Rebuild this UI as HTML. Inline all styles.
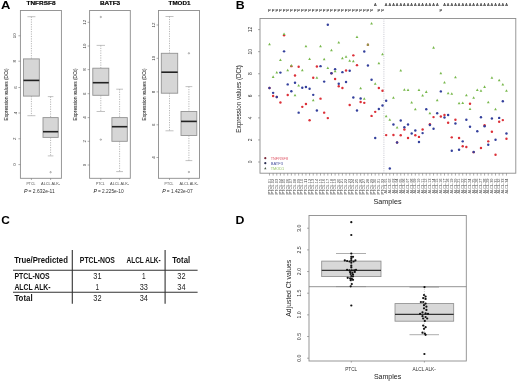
<!DOCTYPE html>
<html><head><meta charset="utf-8"><title>Figure</title>
<style>
html,body{margin:0;padding:0;background:#fff;width:520px;height:381px;overflow:hidden;}
svg{display:block;will-change:transform;}
text{font-family:"Liberation Sans", sans-serif;}
</style></head>
<body>
<svg width="520" height="381" viewBox="0 0 520 381">
<rect width="520" height="381" fill="#fff"/>
<text x="0.90" y="8.60" font-size="11.8" font-weight="bold" textLength="9.40" lengthAdjust="spacingAndGlyphs">A</text>
<rect x="20.40" y="10.50" width="41.00" height="167.80" fill="none" stroke="#8c8c8c" stroke-width="0.9"/>
<text x="26.50" y="5.40" font-size="5.9" font-weight="bold" textLength="29.00" lengthAdjust="spacingAndGlyphs" style="stroke:#000;stroke-width:0.18px">TNFRSF8</text>
<line x1="18.40" y1="35.80" x2="20.40" y2="35.80" stroke="#777" stroke-width="0.6"/>
<text x="16.50" y="35.80" font-size="4.4" text-anchor="middle" fill="#3a3a3a" transform="rotate(-90 16.50 35.80)">10</text>
<line x1="18.40" y1="61.20" x2="20.40" y2="61.20" stroke="#777" stroke-width="0.6"/>
<text x="16.50" y="61.20" font-size="4.4" text-anchor="middle" fill="#3a3a3a" transform="rotate(-90 16.50 61.20)">8</text>
<line x1="18.40" y1="87.50" x2="20.40" y2="87.50" stroke="#777" stroke-width="0.6"/>
<text x="16.50" y="87.50" font-size="4.4" text-anchor="middle" fill="#3a3a3a" transform="rotate(-90 16.50 87.50)">6</text>
<line x1="18.40" y1="113.00" x2="20.40" y2="113.00" stroke="#777" stroke-width="0.6"/>
<text x="16.50" y="113.00" font-size="4.4" text-anchor="middle" fill="#3a3a3a" transform="rotate(-90 16.50 113.00)">4</text>
<line x1="18.40" y1="138.80" x2="20.40" y2="138.80" stroke="#777" stroke-width="0.6"/>
<text x="16.50" y="138.80" font-size="4.4" text-anchor="middle" fill="#3a3a3a" transform="rotate(-90 16.50 138.80)">2</text>
<line x1="18.40" y1="164.60" x2="20.40" y2="164.60" stroke="#777" stroke-width="0.6"/>
<text x="16.50" y="164.60" font-size="4.4" text-anchor="middle" fill="#3a3a3a" transform="rotate(-90 16.50 164.60)">0</text>
<text x="7.90" y="94.50" font-size="5.9" text-anchor="middle" fill="#2a2a2a" textLength="52.00" lengthAdjust="spacingAndGlyphs" transform="rotate(-90 7.90 94.50)" stroke="#2a2a2a" stroke-width="0.07">Expression values (DCt)</text>
<line x1="31.40" y1="16.70" x2="31.40" y2="58.90" stroke="#888" stroke-width="0.6" stroke-dasharray="1.2,1.2"/>
<line x1="31.40" y1="96.10" x2="31.40" y2="115.70" stroke="#888" stroke-width="0.6" stroke-dasharray="1.2,1.2"/>
<line x1="27.40" y1="16.70" x2="35.40" y2="16.70" stroke="#999" stroke-width="0.6"/>
<line x1="27.40" y1="115.70" x2="35.40" y2="115.70" stroke="#999" stroke-width="0.6"/>
<rect x="23.50" y="58.90" width="15.80" height="37.20" fill="#d6d6d6" stroke="#939393" stroke-width="0.9"/>
<line x1="23.50" y1="80.40" x2="39.30" y2="80.40" stroke="#222" stroke-width="1.6"/>
<line x1="50.60" y1="96.60" x2="50.60" y2="117.60" stroke="#888" stroke-width="0.6" stroke-dasharray="1.2,1.2"/>
<line x1="50.60" y1="137.40" x2="50.60" y2="155.90" stroke="#888" stroke-width="0.6" stroke-dasharray="1.2,1.2"/>
<line x1="47.80" y1="96.60" x2="53.40" y2="96.60" stroke="#999" stroke-width="0.6"/>
<line x1="47.80" y1="155.90" x2="53.40" y2="155.90" stroke="#999" stroke-width="0.6"/>
<rect x="43.00" y="117.60" width="15.20" height="19.80" fill="#d6d6d6" stroke="#939393" stroke-width="0.9"/>
<line x1="43.00" y1="131.70" x2="58.20" y2="131.70" stroke="#222" stroke-width="1.6"/>
<circle cx="50.60" cy="172.20" r="0.7" fill="none" stroke="#666" stroke-width="0.5"/>
<line x1="31.40" y1="178.30" x2="31.40" y2="180.00" stroke="#777" stroke-width="0.6"/>
<line x1="50.60" y1="178.30" x2="50.60" y2="180.00" stroke="#777" stroke-width="0.6"/>
<text x="30.90" y="185.30" font-size="4.1" text-anchor="middle" fill="#4a4a4a" textLength="8.80" lengthAdjust="spacingAndGlyphs">PTCL</text>
<text x="50.60" y="185.30" font-size="4.1" text-anchor="middle" fill="#4a4a4a" textLength="19.00" lengthAdjust="spacingAndGlyphs">ALCL ALK-</text>
<text x="24.00" y="193.20" font-size="5.6" fill="#111" textLength="3.50" lengthAdjust="spacingAndGlyphs" style="font-style:italic">P</text>
<text x="28.50" y="193.10" font-size="5.2" fill="#333" textLength="26.20" lengthAdjust="spacingAndGlyphs"> = 2.632e-11</text>
<rect x="89.60" y="10.50" width="40.70" height="167.80" fill="none" stroke="#8c8c8c" stroke-width="0.9"/>
<text x="99.90" y="5.40" font-size="5.9" font-weight="bold" textLength="20.30" lengthAdjust="spacingAndGlyphs" style="stroke:#000;stroke-width:0.18px">BATF3</text>
<line x1="87.60" y1="22.30" x2="89.60" y2="22.30" stroke="#777" stroke-width="0.6"/>
<text x="85.70" y="22.30" font-size="4.4" text-anchor="middle" fill="#3a3a3a" transform="rotate(-90 85.70 22.30)">12</text>
<line x1="87.60" y1="46.00" x2="89.60" y2="46.00" stroke="#777" stroke-width="0.6"/>
<text x="85.70" y="46.00" font-size="4.4" text-anchor="middle" fill="#3a3a3a" transform="rotate(-90 85.70 46.00)">10</text>
<line x1="87.60" y1="69.60" x2="89.60" y2="69.60" stroke="#777" stroke-width="0.6"/>
<text x="85.70" y="69.60" font-size="4.4" text-anchor="middle" fill="#3a3a3a" transform="rotate(-90 85.70 69.60)">8</text>
<line x1="87.60" y1="93.70" x2="89.60" y2="93.70" stroke="#777" stroke-width="0.6"/>
<text x="85.70" y="93.70" font-size="4.4" text-anchor="middle" fill="#3a3a3a" transform="rotate(-90 85.70 93.70)">6</text>
<line x1="87.60" y1="117.60" x2="89.60" y2="117.60" stroke="#777" stroke-width="0.6"/>
<text x="85.70" y="117.60" font-size="4.4" text-anchor="middle" fill="#3a3a3a" transform="rotate(-90 85.70 117.60)">4</text>
<line x1="87.60" y1="141.30" x2="89.60" y2="141.30" stroke="#777" stroke-width="0.6"/>
<text x="85.70" y="141.30" font-size="4.4" text-anchor="middle" fill="#3a3a3a" transform="rotate(-90 85.70 141.30)">2</text>
<line x1="87.60" y1="165.00" x2="89.60" y2="165.00" stroke="#777" stroke-width="0.6"/>
<text x="85.70" y="165.00" font-size="4.4" text-anchor="middle" fill="#3a3a3a" transform="rotate(-90 85.70 165.00)">0</text>
<text x="77.10" y="94.50" font-size="5.9" text-anchor="middle" fill="#2a2a2a" textLength="52.00" lengthAdjust="spacingAndGlyphs" transform="rotate(-90 77.10 94.50)" stroke="#2a2a2a" stroke-width="0.07">Expression values (DCt)</text>
<line x1="100.80" y1="45.40" x2="100.80" y2="68.20" stroke="#888" stroke-width="0.6" stroke-dasharray="1.2,1.2"/>
<line x1="100.80" y1="95.30" x2="100.80" y2="111.50" stroke="#888" stroke-width="0.6" stroke-dasharray="1.2,1.2"/>
<line x1="96.60" y1="45.40" x2="105.00" y2="45.40" stroke="#999" stroke-width="0.6"/>
<line x1="96.60" y1="111.50" x2="105.00" y2="111.50" stroke="#999" stroke-width="0.6"/>
<rect x="92.80" y="68.20" width="16.00" height="27.10" fill="#d6d6d6" stroke="#939393" stroke-width="0.9"/>
<line x1="92.80" y1="82.70" x2="108.80" y2="82.70" stroke="#222" stroke-width="1.6"/>
<circle cx="100.80" cy="17.00" r="0.7" fill="none" stroke="#666" stroke-width="0.5"/>
<circle cx="100.80" cy="139.60" r="0.7" fill="none" stroke="#666" stroke-width="0.5"/>
<line x1="119.60" y1="89.20" x2="119.60" y2="117.60" stroke="#888" stroke-width="0.6" stroke-dasharray="1.2,1.2"/>
<line x1="119.60" y1="141.30" x2="119.60" y2="171.60" stroke="#888" stroke-width="0.6" stroke-dasharray="1.2,1.2"/>
<line x1="116.20" y1="89.20" x2="123.00" y2="89.20" stroke="#999" stroke-width="0.6"/>
<line x1="116.20" y1="171.60" x2="123.00" y2="171.60" stroke="#999" stroke-width="0.6"/>
<rect x="111.90" y="117.60" width="15.40" height="23.70" fill="#d6d6d6" stroke="#939393" stroke-width="0.9"/>
<line x1="111.90" y1="126.70" x2="127.30" y2="126.70" stroke="#222" stroke-width="1.6"/>
<line x1="100.80" y1="178.30" x2="100.80" y2="180.00" stroke="#777" stroke-width="0.6"/>
<line x1="119.60" y1="178.30" x2="119.60" y2="180.00" stroke="#777" stroke-width="0.6"/>
<text x="100.30" y="185.30" font-size="4.1" text-anchor="middle" fill="#4a4a4a" textLength="8.80" lengthAdjust="spacingAndGlyphs">PTCL</text>
<text x="119.60" y="185.30" font-size="4.1" text-anchor="middle" fill="#4a4a4a" textLength="19.00" lengthAdjust="spacingAndGlyphs">ALCL ALK-</text>
<text x="93.40" y="193.20" font-size="5.6" fill="#111" textLength="3.50" lengthAdjust="spacingAndGlyphs" style="font-style:italic">P</text>
<text x="97.90" y="193.10" font-size="5.2" fill="#333" textLength="25.80" lengthAdjust="spacingAndGlyphs"> = 2.225e-10</text>
<rect x="158.50" y="10.50" width="41.00" height="167.80" fill="none" stroke="#8c8c8c" stroke-width="0.9"/>
<text x="168.60" y="5.40" font-size="5.9" font-weight="bold" textLength="21.80" lengthAdjust="spacingAndGlyphs" style="stroke:#000;stroke-width:0.18px">TMOD1</text>
<line x1="156.50" y1="25.00" x2="158.50" y2="25.00" stroke="#777" stroke-width="0.6"/>
<text x="154.60" y="25.00" font-size="4.4" text-anchor="middle" fill="#3a3a3a" transform="rotate(-90 154.60 25.00)">12</text>
<line x1="156.50" y1="58.30" x2="158.50" y2="58.30" stroke="#777" stroke-width="0.6"/>
<text x="154.60" y="58.30" font-size="4.4" text-anchor="middle" fill="#3a3a3a" transform="rotate(-90 154.60 58.30)">10</text>
<line x1="156.50" y1="91.90" x2="158.50" y2="91.90" stroke="#777" stroke-width="0.6"/>
<text x="154.60" y="91.90" font-size="4.4" text-anchor="middle" fill="#3a3a3a" transform="rotate(-90 154.60 91.90)">8</text>
<line x1="156.50" y1="124.80" x2="158.50" y2="124.80" stroke="#777" stroke-width="0.6"/>
<text x="154.60" y="124.80" font-size="4.4" text-anchor="middle" fill="#3a3a3a" transform="rotate(-90 154.60 124.80)">6</text>
<line x1="156.50" y1="157.50" x2="158.50" y2="157.50" stroke="#777" stroke-width="0.6"/>
<text x="154.60" y="157.50" font-size="4.4" text-anchor="middle" fill="#3a3a3a" transform="rotate(-90 154.60 157.50)">4</text>
<text x="146.00" y="94.50" font-size="5.9" text-anchor="middle" fill="#2a2a2a" textLength="52.00" lengthAdjust="spacingAndGlyphs" transform="rotate(-90 146.00 94.50)" stroke="#2a2a2a" stroke-width="0.07">Expression values (DCt)</text>
<line x1="169.50" y1="16.50" x2="169.50" y2="53.30" stroke="#888" stroke-width="0.6" stroke-dasharray="1.2,1.2"/>
<line x1="169.50" y1="93.20" x2="169.50" y2="130.80" stroke="#888" stroke-width="0.6" stroke-dasharray="1.2,1.2"/>
<line x1="165.50" y1="16.50" x2="173.50" y2="16.50" stroke="#999" stroke-width="0.6"/>
<line x1="165.50" y1="130.80" x2="173.50" y2="130.80" stroke="#999" stroke-width="0.6"/>
<rect x="161.30" y="53.30" width="16.40" height="39.90" fill="#d6d6d6" stroke="#939393" stroke-width="0.9"/>
<line x1="161.30" y1="72.20" x2="177.70" y2="72.20" stroke="#222" stroke-width="1.6"/>
<line x1="188.90" y1="86.60" x2="188.90" y2="111.50" stroke="#888" stroke-width="0.6" stroke-dasharray="1.2,1.2"/>
<line x1="188.90" y1="135.50" x2="188.90" y2="160.60" stroke="#888" stroke-width="0.6" stroke-dasharray="1.2,1.2"/>
<line x1="185.50" y1="86.60" x2="192.30" y2="86.60" stroke="#999" stroke-width="0.6"/>
<line x1="185.50" y1="160.60" x2="192.30" y2="160.60" stroke="#999" stroke-width="0.6"/>
<rect x="181.00" y="111.50" width="15.80" height="24.00" fill="#d6d6d6" stroke="#939393" stroke-width="0.9"/>
<line x1="181.00" y1="121.40" x2="196.80" y2="121.40" stroke="#222" stroke-width="1.6"/>
<circle cx="188.90" cy="53.30" r="0.7" fill="none" stroke="#666" stroke-width="0.5"/>
<circle cx="188.90" cy="172.00" r="0.7" fill="none" stroke="#666" stroke-width="0.5"/>
<line x1="169.50" y1="178.30" x2="169.50" y2="180.00" stroke="#777" stroke-width="0.6"/>
<line x1="188.90" y1="178.30" x2="188.90" y2="180.00" stroke="#777" stroke-width="0.6"/>
<text x="169.00" y="185.30" font-size="4.1" text-anchor="middle" fill="#4a4a4a" textLength="8.80" lengthAdjust="spacingAndGlyphs">PTCL</text>
<text x="188.90" y="185.30" font-size="4.1" text-anchor="middle" fill="#4a4a4a" textLength="19.00" lengthAdjust="spacingAndGlyphs">ALCL ALK-</text>
<text x="162.30" y="193.20" font-size="5.6" fill="#111" textLength="3.50" lengthAdjust="spacingAndGlyphs" style="font-style:italic">P</text>
<text x="166.80" y="193.10" font-size="5.2" fill="#333" textLength="25.80" lengthAdjust="spacingAndGlyphs"> = 1.423e-07</text>
<text x="235.70" y="8.70" font-size="10.9" font-weight="bold" textLength="8.90" lengthAdjust="spacingAndGlyphs">B</text>
<rect x="260.00" y="18.50" width="255.80" height="154.70" fill="none" stroke="#8c8c8c" stroke-width="0.9"/>
<line x1="258.00" y1="162.00" x2="260.00" y2="162.00" stroke="#777" stroke-width="0.6"/>
<text x="252.40" y="162.00" font-size="4.9" text-anchor="middle" fill="#333" transform="rotate(-90 252.40 162.00)">0</text>
<line x1="258.00" y1="139.93" x2="260.00" y2="139.93" stroke="#777" stroke-width="0.6"/>
<text x="252.40" y="139.93" font-size="4.9" text-anchor="middle" fill="#333" transform="rotate(-90 252.40 139.93)">2</text>
<line x1="258.00" y1="117.87" x2="260.00" y2="117.87" stroke="#777" stroke-width="0.6"/>
<text x="252.40" y="117.87" font-size="4.9" text-anchor="middle" fill="#333" transform="rotate(-90 252.40 117.87)">4</text>
<line x1="258.00" y1="95.80" x2="260.00" y2="95.80" stroke="#777" stroke-width="0.6"/>
<text x="252.40" y="95.80" font-size="4.9" text-anchor="middle" fill="#333" transform="rotate(-90 252.40 95.80)">6</text>
<line x1="258.00" y1="73.74" x2="260.00" y2="73.74" stroke="#777" stroke-width="0.6"/>
<text x="252.40" y="73.74" font-size="4.9" text-anchor="middle" fill="#333" transform="rotate(-90 252.40 73.74)">8</text>
<line x1="258.00" y1="51.67" x2="260.00" y2="51.67" stroke="#777" stroke-width="0.6"/>
<text x="252.40" y="51.67" font-size="4.9" text-anchor="middle" fill="#333" transform="rotate(-90 252.40 51.67)">10</text>
<line x1="258.00" y1="29.60" x2="260.00" y2="29.60" stroke="#777" stroke-width="0.6"/>
<text x="252.40" y="29.60" font-size="4.9" text-anchor="middle" fill="#333" transform="rotate(-90 252.40 29.60)">12</text>
<text x="240.80" y="98.90" font-size="6.8" text-anchor="middle" fill="#2a2a2a" textLength="67.50" lengthAdjust="spacingAndGlyphs" transform="rotate(-90 240.80 98.90)" stroke="#2a2a2a" stroke-width="0.03">Expression values (DCt)</text>
<line x1="383.90" y1="18.50" x2="383.90" y2="173.20" stroke="#b8b8c4" stroke-width="0.8" stroke-dasharray="1,1.2"/>
<line x1="269.48" y1="173.20" x2="269.48" y2="175.60" stroke="#777" stroke-width="0.6"/>
<circle cx="269.48" cy="88.06" r="1.22" fill="#dc3038"/>
<circle cx="269.48" cy="88.06" r="1.22" fill="#34409c"/>
<polygon points="269.48,42.64 268.10,45.18 270.86,45.18" fill="#78b84c"/>
<text x="269.48" y="11.90" font-size="4.1" text-anchor="middle" fill="#333" stroke="#333" stroke-width="0.1">P</text>
<text x="270.58" y="194.60" font-size="3.0" fill="#4a4a4a" textLength="15.80" lengthAdjust="spacingAndGlyphs" transform="rotate(-90 270.58 194.60)">PTCL.01</text>
<line x1="273.13" y1="173.20" x2="273.13" y2="175.60" stroke="#777" stroke-width="0.6"/>
<circle cx="273.13" cy="95.96" r="1.22" fill="#dc3038"/>
<circle cx="273.13" cy="92.85" r="1.22" fill="#34409c"/>
<polygon points="273.13,75.35 271.75,77.89 274.51,77.89" fill="#78b84c"/>
<text x="273.13" y="11.90" font-size="4.1" text-anchor="middle" fill="#333" stroke="#333" stroke-width="0.1">P</text>
<text x="274.23" y="194.60" font-size="3.0" fill="#4a4a4a" textLength="15.80" lengthAdjust="spacingAndGlyphs" transform="rotate(-90 274.23 194.60)">PTCL.02</text>
<line x1="276.77" y1="173.20" x2="276.77" y2="175.60" stroke="#777" stroke-width="0.6"/>
<circle cx="276.77" cy="96.96" r="1.22" fill="#dc3038"/>
<circle cx="276.77" cy="96.96" r="1.22" fill="#34409c"/>
<polygon points="276.77,71.01 275.39,73.55 278.15,73.55" fill="#78b84c"/>
<text x="276.77" y="11.90" font-size="4.1" text-anchor="middle" fill="#333" stroke="#333" stroke-width="0.1">P</text>
<text x="277.87" y="194.60" font-size="3.0" fill="#4a4a4a" textLength="15.80" lengthAdjust="spacingAndGlyphs" transform="rotate(-90 277.87 194.60)">PTCL.03</text>
<line x1="280.42" y1="173.20" x2="280.42" y2="175.60" stroke="#777" stroke-width="0.6"/>
<circle cx="280.42" cy="102.52" r="1.22" fill="#dc3038"/>
<circle cx="280.42" cy="72.60" r="1.22" fill="#34409c"/>
<polygon points="280.42,58.44 279.04,60.98 281.80,60.98" fill="#78b84c"/>
<text x="280.42" y="11.90" font-size="4.1" text-anchor="middle" fill="#333" stroke="#333" stroke-width="0.1">P</text>
<text x="281.52" y="194.60" font-size="3.0" fill="#4a4a4a" textLength="15.80" lengthAdjust="spacingAndGlyphs" transform="rotate(-90 281.52 194.60)">PTCL.04</text>
<line x1="284.06" y1="173.20" x2="284.06" y2="175.60" stroke="#777" stroke-width="0.6"/>
<circle cx="284.06" cy="35.22" r="1.22" fill="#dc3038"/>
<circle cx="284.06" cy="51.35" r="1.22" fill="#34409c"/>
<polygon points="284.06,32.52 282.68,35.06 285.44,35.06" fill="#78b84c"/>
<text x="284.06" y="11.90" font-size="4.1" text-anchor="middle" fill="#333" stroke="#333" stroke-width="0.1">P</text>
<text x="285.16" y="194.60" font-size="3.0" fill="#4a4a4a" textLength="15.80" lengthAdjust="spacingAndGlyphs" transform="rotate(-90 285.16 194.60)">PTCL.05</text>
<line x1="287.71" y1="173.20" x2="287.71" y2="175.60" stroke="#777" stroke-width="0.6"/>
<circle cx="287.71" cy="94.96" r="1.22" fill="#dc3038"/>
<circle cx="287.71" cy="84.39" r="1.22" fill="#34409c"/>
<polygon points="287.71,68.68 286.33,71.21 289.09,71.21" fill="#78b84c"/>
<text x="287.71" y="11.90" font-size="4.1" text-anchor="middle" fill="#333" stroke="#333" stroke-width="0.1">P</text>
<text x="288.81" y="194.60" font-size="3.0" fill="#4a4a4a" textLength="15.80" lengthAdjust="spacingAndGlyphs" transform="rotate(-90 288.81 194.60)">PTCL.06</text>
<line x1="291.36" y1="173.20" x2="291.36" y2="175.60" stroke="#777" stroke-width="0.6"/>
<circle cx="291.36" cy="66.15" r="1.22" fill="#dc3038"/>
<circle cx="291.36" cy="91.18" r="1.22" fill="#34409c"/>
<polygon points="291.36,64.00 289.98,66.54 292.74,66.54" fill="#78b84c"/>
<text x="291.36" y="11.90" font-size="4.1" text-anchor="middle" fill="#333" stroke="#333" stroke-width="0.1">P</text>
<text x="292.46" y="194.60" font-size="3.0" fill="#4a4a4a" textLength="15.80" lengthAdjust="spacingAndGlyphs" transform="rotate(-90 292.46 194.60)">PTCL.07</text>
<line x1="295.00" y1="173.20" x2="295.00" y2="175.60" stroke="#777" stroke-width="0.6"/>
<circle cx="295.00" cy="75.49" r="1.22" fill="#dc3038"/>
<circle cx="295.00" cy="82.72" r="1.22" fill="#34409c"/>
<polygon points="295.00,93.71 293.62,96.25 296.38,96.25" fill="#78b84c"/>
<text x="295.00" y="11.90" font-size="4.1" text-anchor="middle" fill="#333" stroke="#333" stroke-width="0.1">P</text>
<text x="296.10" y="194.60" font-size="3.0" fill="#4a4a4a" textLength="15.80" lengthAdjust="spacingAndGlyphs" transform="rotate(-90 296.10 194.60)">PTCL.08</text>
<line x1="298.65" y1="173.20" x2="298.65" y2="175.60" stroke="#777" stroke-width="0.6"/>
<circle cx="298.65" cy="66.70" r="1.22" fill="#dc3038"/>
<circle cx="298.65" cy="112.65" r="1.22" fill="#34409c"/>
<polygon points="298.65,83.92 297.27,86.46 300.03,86.46" fill="#78b84c"/>
<text x="298.65" y="11.90" font-size="4.1" text-anchor="middle" fill="#333" stroke="#333" stroke-width="0.1">P</text>
<text x="299.75" y="194.60" font-size="3.0" fill="#4a4a4a" textLength="15.80" lengthAdjust="spacingAndGlyphs" transform="rotate(-90 299.75 194.60)">PTCL.09</text>
<line x1="302.29" y1="173.20" x2="302.29" y2="175.60" stroke="#777" stroke-width="0.6"/>
<circle cx="302.29" cy="106.86" r="1.22" fill="#dc3038"/>
<circle cx="302.29" cy="87.84" r="1.22" fill="#34409c"/>
<polygon points="302.29,68.68 300.91,71.21 303.67,71.21" fill="#78b84c"/>
<text x="302.29" y="11.90" font-size="4.1" text-anchor="middle" fill="#333" stroke="#333" stroke-width="0.1">P</text>
<text x="303.39" y="194.60" font-size="3.0" fill="#4a4a4a" textLength="15.80" lengthAdjust="spacingAndGlyphs" transform="rotate(-90 303.39 194.60)">PTCL.10</text>
<line x1="305.94" y1="173.20" x2="305.94" y2="175.60" stroke="#777" stroke-width="0.6"/>
<circle cx="305.94" cy="103.97" r="1.22" fill="#dc3038"/>
<circle cx="305.94" cy="86.95" r="1.22" fill="#34409c"/>
<polygon points="305.94,44.65 304.56,47.18 307.32,47.18" fill="#78b84c"/>
<text x="305.94" y="11.90" font-size="4.1" text-anchor="middle" fill="#333" stroke="#333" stroke-width="0.1">P</text>
<text x="307.04" y="194.60" font-size="3.0" fill="#4a4a4a" textLength="15.80" lengthAdjust="spacingAndGlyphs" transform="rotate(-90 307.04 194.60)">PTCL.11</text>
<line x1="309.59" y1="173.20" x2="309.59" y2="175.60" stroke="#777" stroke-width="0.6"/>
<circle cx="309.59" cy="120.32" r="1.22" fill="#dc3038"/>
<circle cx="309.59" cy="88.84" r="1.22" fill="#34409c"/>
<polygon points="309.59,57.44 308.21,59.98 310.97,59.98" fill="#78b84c"/>
<text x="309.59" y="11.90" font-size="4.1" text-anchor="middle" fill="#333" stroke="#333" stroke-width="0.1">P</text>
<text x="310.69" y="194.60" font-size="3.0" fill="#4a4a4a" textLength="15.80" lengthAdjust="spacingAndGlyphs" transform="rotate(-90 310.69 194.60)">PTCL.12</text>
<line x1="313.23" y1="173.20" x2="313.23" y2="175.60" stroke="#777" stroke-width="0.6"/>
<circle cx="313.23" cy="77.72" r="1.22" fill="#dc3038"/>
<circle cx="313.23" cy="94.85" r="1.22" fill="#34409c"/>
<polygon points="313.23,98.71 311.85,101.25 314.61,101.25" fill="#78b84c"/>
<text x="313.23" y="11.90" font-size="4.1" text-anchor="middle" fill="#333" stroke="#333" stroke-width="0.1">P</text>
<text x="314.33" y="194.60" font-size="3.0" fill="#4a4a4a" textLength="15.80" lengthAdjust="spacingAndGlyphs" transform="rotate(-90 314.33 194.60)">PTCL.13</text>
<line x1="316.88" y1="173.20" x2="316.88" y2="175.60" stroke="#777" stroke-width="0.6"/>
<circle cx="316.88" cy="66.48" r="1.22" fill="#dc3038"/>
<circle cx="316.88" cy="110.42" r="1.22" fill="#34409c"/>
<polygon points="316.88,76.13 315.50,78.67 318.26,78.67" fill="#78b84c"/>
<text x="316.88" y="11.90" font-size="4.1" text-anchor="middle" fill="#333" stroke="#333" stroke-width="0.1">P</text>
<text x="317.98" y="194.60" font-size="3.0" fill="#4a4a4a" textLength="15.80" lengthAdjust="spacingAndGlyphs" transform="rotate(-90 317.98 194.60)">PTCL.14</text>
<line x1="320.52" y1="173.20" x2="320.52" y2="175.60" stroke="#777" stroke-width="0.6"/>
<circle cx="320.52" cy="98.63" r="1.22" fill="#dc3038"/>
<circle cx="320.52" cy="66.15" r="1.22" fill="#34409c"/>
<polygon points="320.52,44.65 319.14,47.18 321.90,47.18" fill="#78b84c"/>
<text x="320.52" y="11.90" font-size="4.1" text-anchor="middle" fill="#333" stroke="#333" stroke-width="0.1">P</text>
<text x="321.62" y="194.60" font-size="3.0" fill="#4a4a4a" textLength="15.80" lengthAdjust="spacingAndGlyphs" transform="rotate(-90 321.62 194.60)">PTCL.15</text>
<line x1="324.17" y1="173.20" x2="324.17" y2="175.60" stroke="#777" stroke-width="0.6"/>
<circle cx="324.17" cy="112.65" r="1.22" fill="#dc3038"/>
<circle cx="324.17" cy="81.61" r="1.22" fill="#34409c"/>
<polygon points="324.17,57.66 322.79,60.20 325.55,60.20" fill="#78b84c"/>
<text x="324.17" y="11.90" font-size="4.1" text-anchor="middle" fill="#333" stroke="#333" stroke-width="0.1">P</text>
<text x="325.27" y="194.60" font-size="3.0" fill="#4a4a4a" textLength="15.80" lengthAdjust="spacingAndGlyphs" transform="rotate(-90 325.27 194.60)">PTCL.16</text>
<line x1="327.82" y1="173.20" x2="327.82" y2="175.60" stroke="#777" stroke-width="0.6"/>
<circle cx="327.82" cy="118.10" r="1.22" fill="#dc3038"/>
<circle cx="327.82" cy="24.76" r="1.22" fill="#34409c"/>
<polygon points="327.82,66.56 326.44,69.10 329.20,69.10" fill="#78b84c"/>
<text x="327.82" y="11.90" font-size="4.1" text-anchor="middle" fill="#333" stroke="#333" stroke-width="0.1">P</text>
<text x="328.92" y="194.60" font-size="3.0" fill="#4a4a4a" textLength="15.80" lengthAdjust="spacingAndGlyphs" transform="rotate(-90 328.92 194.60)">PTCL.17</text>
<line x1="331.46" y1="173.20" x2="331.46" y2="175.60" stroke="#777" stroke-width="0.6"/>
<circle cx="331.46" cy="73.16" r="1.22" fill="#dc3038"/>
<circle cx="331.46" cy="73.16" r="1.22" fill="#34409c"/>
<polygon points="331.46,48.76 330.08,51.30 332.84,51.30" fill="#78b84c"/>
<text x="331.46" y="11.90" font-size="4.1" text-anchor="middle" fill="#333" stroke="#333" stroke-width="0.1">P</text>
<text x="332.56" y="194.60" font-size="3.0" fill="#4a4a4a" textLength="15.80" lengthAdjust="spacingAndGlyphs" transform="rotate(-90 332.56 194.60)">PTCL.18</text>
<line x1="335.11" y1="173.20" x2="335.11" y2="175.60" stroke="#777" stroke-width="0.6"/>
<circle cx="335.11" cy="79.05" r="1.22" fill="#dc3038"/>
<circle cx="335.11" cy="69.15" r="1.22" fill="#34409c"/>
<polygon points="335.11,69.79 333.73,72.33 336.49,72.33" fill="#78b84c"/>
<text x="335.11" y="11.90" font-size="4.1" text-anchor="middle" fill="#333" stroke="#333" stroke-width="0.1">P</text>
<text x="336.21" y="194.60" font-size="3.0" fill="#4a4a4a" textLength="15.80" lengthAdjust="spacingAndGlyphs" transform="rotate(-90 336.21 194.60)">PTCL.19</text>
<line x1="338.75" y1="173.20" x2="338.75" y2="175.60" stroke="#777" stroke-width="0.6"/>
<circle cx="338.75" cy="86.17" r="1.22" fill="#dc3038"/>
<circle cx="338.75" cy="83.72" r="1.22" fill="#34409c"/>
<polygon points="338.75,41.09 337.37,43.62 340.13,43.62" fill="#78b84c"/>
<text x="338.75" y="11.90" font-size="4.1" text-anchor="middle" fill="#333" stroke="#333" stroke-width="0.1">P</text>
<text x="339.85" y="194.60" font-size="3.0" fill="#4a4a4a" textLength="15.80" lengthAdjust="spacingAndGlyphs" transform="rotate(-90 339.85 194.60)">PTCL.20</text>
<line x1="342.40" y1="173.20" x2="342.40" y2="175.60" stroke="#777" stroke-width="0.6"/>
<circle cx="342.40" cy="88.06" r="1.22" fill="#dc3038"/>
<circle cx="342.40" cy="72.15" r="1.22" fill="#34409c"/>
<polygon points="342.40,56.66 341.02,59.20 343.78,59.20" fill="#78b84c"/>
<text x="342.40" y="11.90" font-size="4.1" text-anchor="middle" fill="#333" stroke="#333" stroke-width="0.1">P</text>
<text x="343.50" y="194.60" font-size="3.0" fill="#4a4a4a" textLength="15.80" lengthAdjust="spacingAndGlyphs" transform="rotate(-90 343.50 194.60)">PTCL.21</text>
<line x1="346.05" y1="173.20" x2="346.05" y2="175.60" stroke="#777" stroke-width="0.6"/>
<circle cx="346.05" cy="70.48" r="1.22" fill="#dc3038"/>
<circle cx="346.05" cy="82.05" r="1.22" fill="#34409c"/>
<polygon points="346.05,55.21 344.67,57.75 347.43,57.75" fill="#78b84c"/>
<text x="346.05" y="11.90" font-size="4.1" text-anchor="middle" fill="#333" stroke="#333" stroke-width="0.1">P</text>
<text x="347.15" y="194.60" font-size="3.0" fill="#4a4a4a" textLength="15.80" lengthAdjust="spacingAndGlyphs" transform="rotate(-90 347.15 194.60)">PTCL.22</text>
<line x1="349.69" y1="173.20" x2="349.69" y2="175.60" stroke="#777" stroke-width="0.6"/>
<circle cx="349.69" cy="104.97" r="1.22" fill="#dc3038"/>
<circle cx="349.69" cy="70.82" r="1.22" fill="#34409c"/>
<polygon points="349.69,59.33 348.31,61.87 351.07,61.87" fill="#78b84c"/>
<text x="349.69" y="11.90" font-size="4.1" text-anchor="middle" fill="#333" stroke="#333" stroke-width="0.1">P</text>
<text x="350.79" y="194.60" font-size="3.0" fill="#4a4a4a" textLength="15.80" lengthAdjust="spacingAndGlyphs" transform="rotate(-90 350.79 194.60)">PTCL.23</text>
<line x1="353.34" y1="173.20" x2="353.34" y2="175.60" stroke="#777" stroke-width="0.6"/>
<circle cx="353.34" cy="55.35" r="1.22" fill="#dc3038"/>
<circle cx="353.34" cy="97.41" r="1.22" fill="#34409c"/>
<polygon points="353.34,59.66 351.96,62.20 354.72,62.20" fill="#78b84c"/>
<text x="353.34" y="11.90" font-size="4.1" text-anchor="middle" fill="#333" stroke="#333" stroke-width="0.1">P</text>
<text x="354.44" y="194.60" font-size="3.0" fill="#4a4a4a" textLength="15.80" lengthAdjust="spacingAndGlyphs" transform="rotate(-90 354.44 194.60)">PTCL.24</text>
<line x1="356.98" y1="173.20" x2="356.98" y2="175.60" stroke="#777" stroke-width="0.6"/>
<circle cx="356.98" cy="65.14" r="1.22" fill="#dc3038"/>
<circle cx="356.98" cy="110.42" r="1.22" fill="#34409c"/>
<polygon points="356.98,35.41 355.60,37.95 358.36,37.95" fill="#78b84c"/>
<text x="356.98" y="11.90" font-size="4.1" text-anchor="middle" fill="#333" stroke="#333" stroke-width="0.1">P</text>
<text x="358.08" y="194.60" font-size="3.0" fill="#4a4a4a" textLength="15.80" lengthAdjust="spacingAndGlyphs" transform="rotate(-90 358.08 194.60)">PTCL.25</text>
<line x1="360.63" y1="173.20" x2="360.63" y2="175.60" stroke="#777" stroke-width="0.6"/>
<circle cx="360.63" cy="102.08" r="1.22" fill="#dc3038"/>
<circle cx="360.63" cy="98.52" r="1.22" fill="#34409c"/>
<polygon points="360.63,86.70 359.25,89.24 362.01,89.24" fill="#78b84c"/>
<text x="360.63" y="11.90" font-size="4.1" text-anchor="middle" fill="#333" stroke="#333" stroke-width="0.1">P</text>
<text x="361.73" y="194.60" font-size="3.0" fill="#4a4a4a" textLength="15.80" lengthAdjust="spacingAndGlyphs" transform="rotate(-90 361.73 194.60)">PTCL.26</text>
<line x1="364.28" y1="173.20" x2="364.28" y2="175.60" stroke="#777" stroke-width="0.6"/>
<circle cx="364.28" cy="102.86" r="1.22" fill="#dc3038"/>
<circle cx="364.28" cy="51.46" r="1.22" fill="#34409c"/>
<polygon points="364.28,97.27 362.90,99.81 365.66,99.81" fill="#78b84c"/>
<text x="364.28" y="11.90" font-size="4.1" text-anchor="middle" fill="#333" stroke="#333" stroke-width="0.1">P</text>
<text x="365.38" y="194.60" font-size="3.0" fill="#4a4a4a" textLength="15.80" lengthAdjust="spacingAndGlyphs" transform="rotate(-90 365.38 194.60)">PTCL.27</text>
<line x1="367.92" y1="173.20" x2="367.92" y2="175.60" stroke="#777" stroke-width="0.6"/>
<circle cx="367.92" cy="44.67" r="1.22" fill="#dc3038"/>
<circle cx="367.92" cy="65.48" r="1.22" fill="#34409c"/>
<polygon points="367.92,42.98 366.54,45.52 369.30,45.52" fill="#78b84c"/>
<text x="367.92" y="11.90" font-size="4.1" text-anchor="middle" fill="#333" stroke="#333" stroke-width="0.1">P</text>
<text x="369.02" y="194.60" font-size="3.0" fill="#4a4a4a" textLength="15.80" lengthAdjust="spacingAndGlyphs" transform="rotate(-90 369.02 194.60)">PTCL.28</text>
<line x1="371.57" y1="173.20" x2="371.57" y2="175.60" stroke="#777" stroke-width="0.6"/>
<circle cx="371.57" cy="115.88" r="1.22" fill="#dc3038"/>
<circle cx="371.57" cy="79.72" r="1.22" fill="#34409c"/>
<polygon points="371.57,22.06 370.19,24.60 372.95,24.60" fill="#78b84c"/>
<text x="371.57" y="11.90" font-size="4.1" text-anchor="middle" fill="#333" stroke="#333" stroke-width="0.1">P</text>
<text x="372.67" y="194.60" font-size="3.0" fill="#4a4a4a" textLength="15.80" lengthAdjust="spacingAndGlyphs" transform="rotate(-90 372.67 194.60)">PTCL.29</text>
<line x1="375.21" y1="173.20" x2="375.21" y2="175.60" stroke="#777" stroke-width="0.6"/>
<circle cx="375.21" cy="111.87" r="1.22" fill="#dc3038"/>
<circle cx="375.21" cy="138.01" r="1.22" fill="#34409c"/>
<polygon points="375.21,82.14 373.83,84.68 376.59,84.68" fill="#78b84c"/>
<text x="375.21" y="5.60" font-size="3.9" text-anchor="middle" fill="#333" stroke="#333" stroke-width="0.1">A</text>
<text x="376.31" y="194.60" font-size="3.0" fill="#4a4a4a" textLength="15.80" lengthAdjust="spacingAndGlyphs" transform="rotate(-90 376.31 194.60)">PTCL.30</text>
<line x1="378.86" y1="173.20" x2="378.86" y2="175.60" stroke="#777" stroke-width="0.6"/>
<circle cx="378.86" cy="88.06" r="1.22" fill="#dc3038"/>
<circle cx="378.86" cy="108.98" r="1.22" fill="#34409c"/>
<polygon points="378.86,61.67 377.48,64.21 380.24,64.21" fill="#78b84c"/>
<text x="378.86" y="11.90" font-size="4.1" text-anchor="middle" fill="#333" stroke="#333" stroke-width="0.1">P</text>
<text x="379.96" y="194.60" font-size="3.0" fill="#4a4a4a" textLength="15.80" lengthAdjust="spacingAndGlyphs" transform="rotate(-90 379.96 194.60)">PTCL.31</text>
<line x1="382.51" y1="173.20" x2="382.51" y2="175.60" stroke="#777" stroke-width="0.6"/>
<circle cx="382.51" cy="90.73" r="1.22" fill="#dc3038"/>
<circle cx="382.51" cy="105.42" r="1.22" fill="#34409c"/>
<polygon points="382.51,52.66 381.13,55.19 383.89,55.19" fill="#78b84c"/>
<text x="382.51" y="11.90" font-size="4.1" text-anchor="middle" fill="#333" stroke="#333" stroke-width="0.1">P</text>
<text x="383.61" y="194.60" font-size="3.0" fill="#4a4a4a" textLength="15.80" lengthAdjust="spacingAndGlyphs" transform="rotate(-90 383.61 194.60)">PTCL.32</text>
<line x1="386.15" y1="173.20" x2="386.15" y2="175.60" stroke="#777" stroke-width="0.6"/>
<circle cx="386.15" cy="135.12" r="1.22" fill="#dc3038"/>
<circle cx="386.15" cy="100.75" r="1.22" fill="#34409c"/>
<polygon points="386.15,114.73 384.77,117.27 387.53,117.27" fill="#78b84c"/>
<text x="386.15" y="5.60" font-size="3.9" text-anchor="middle" fill="#333" stroke="#333" stroke-width="0.1">A</text>
<text x="387.25" y="193.40" font-size="3.0" fill="#4a4a4a" textLength="14.80" lengthAdjust="spacingAndGlyphs" transform="rotate(-90 387.25 193.40)">ALCL.01</text>
<line x1="389.80" y1="173.20" x2="389.80" y2="175.60" stroke="#777" stroke-width="0.6"/>
<circle cx="389.80" cy="168.50" r="1.22" fill="#34409c"/>
<polygon points="389.80,118.18 388.42,120.72 391.18,120.72" fill="#78b84c"/>
<text x="389.80" y="5.60" font-size="3.9" text-anchor="middle" fill="#333" stroke="#333" stroke-width="0.1">A</text>
<text x="390.90" y="193.40" font-size="3.0" fill="#4a4a4a" textLength="14.80" lengthAdjust="spacingAndGlyphs" transform="rotate(-90 390.90 193.40)">ALCL.02</text>
<line x1="393.44" y1="173.20" x2="393.44" y2="175.60" stroke="#777" stroke-width="0.6"/>
<circle cx="393.44" cy="135.01" r="1.22" fill="#dc3038"/>
<circle cx="393.44" cy="124.55" r="1.22" fill="#34409c"/>
<polygon points="393.44,96.15 392.06,98.69 394.82,98.69" fill="#78b84c"/>
<text x="393.44" y="5.60" font-size="3.9" text-anchor="middle" fill="#333" stroke="#333" stroke-width="0.1">A</text>
<text x="394.54" y="193.40" font-size="3.0" fill="#4a4a4a" textLength="14.80" lengthAdjust="spacingAndGlyphs" transform="rotate(-90 394.54 193.40)">ALCL.03</text>
<line x1="397.09" y1="173.20" x2="397.09" y2="175.60" stroke="#777" stroke-width="0.6"/>
<circle cx="397.09" cy="142.57" r="1.22" fill="#dc3038"/>
<circle cx="397.09" cy="142.46" r="1.22" fill="#34409c"/>
<polygon points="397.09,125.97 395.71,128.51 398.47,128.51" fill="#78b84c"/>
<text x="397.09" y="5.60" font-size="3.9" text-anchor="middle" fill="#333" stroke="#333" stroke-width="0.1">A</text>
<text x="398.19" y="193.40" font-size="3.0" fill="#4a4a4a" textLength="14.80" lengthAdjust="spacingAndGlyphs" transform="rotate(-90 398.19 193.40)">ALCL.04</text>
<line x1="400.74" y1="173.20" x2="400.74" y2="175.60" stroke="#777" stroke-width="0.6"/>
<circle cx="400.74" cy="135.34" r="1.22" fill="#dc3038"/>
<circle cx="400.74" cy="120.55" r="1.22" fill="#34409c"/>
<polygon points="400.74,69.01 399.36,71.55 402.12,71.55" fill="#78b84c"/>
<text x="400.74" y="5.60" font-size="3.9" text-anchor="middle" fill="#333" stroke="#333" stroke-width="0.1">A</text>
<text x="401.84" y="193.40" font-size="3.0" fill="#4a4a4a" textLength="14.80" lengthAdjust="spacingAndGlyphs" transform="rotate(-90 401.84 193.40)">ALCL.05</text>
<line x1="404.38" y1="173.20" x2="404.38" y2="175.60" stroke="#777" stroke-width="0.6"/>
<circle cx="404.38" cy="129.45" r="1.22" fill="#dc3038"/>
<circle cx="404.38" cy="127.33" r="1.22" fill="#34409c"/>
<polygon points="404.38,88.14 403.00,90.68 405.76,90.68" fill="#78b84c"/>
<text x="404.38" y="5.60" font-size="3.9" text-anchor="middle" fill="#333" stroke="#333" stroke-width="0.1">A</text>
<text x="405.48" y="193.40" font-size="3.0" fill="#4a4a4a" textLength="14.80" lengthAdjust="spacingAndGlyphs" transform="rotate(-90 405.48 193.40)">ALCL.06</text>
<line x1="408.03" y1="173.20" x2="408.03" y2="175.60" stroke="#777" stroke-width="0.6"/>
<circle cx="408.03" cy="138.01" r="1.22" fill="#dc3038"/>
<circle cx="408.03" cy="124.55" r="1.22" fill="#34409c"/>
<polygon points="408.03,88.48 406.65,91.02 409.41,91.02" fill="#78b84c"/>
<text x="408.03" y="5.60" font-size="3.9" text-anchor="middle" fill="#333" stroke="#333" stroke-width="0.1">A</text>
<text x="409.13" y="193.40" font-size="3.0" fill="#4a4a4a" textLength="14.80" lengthAdjust="spacingAndGlyphs" transform="rotate(-90 409.13 193.40)">ALCL.07</text>
<line x1="411.67" y1="173.20" x2="411.67" y2="175.60" stroke="#777" stroke-width="0.6"/>
<circle cx="411.67" cy="133.45" r="1.22" fill="#34409c"/>
<polygon points="411.67,100.94 410.29,103.48 413.05,103.48" fill="#78b84c"/>
<text x="411.67" y="5.60" font-size="3.9" text-anchor="middle" fill="#333" stroke="#333" stroke-width="0.1">A</text>
<text x="412.77" y="193.40" font-size="3.0" fill="#4a4a4a" textLength="14.80" lengthAdjust="spacingAndGlyphs" transform="rotate(-90 412.77 193.40)">ALCL.08</text>
<line x1="415.32" y1="173.20" x2="415.32" y2="175.60" stroke="#777" stroke-width="0.6"/>
<circle cx="415.32" cy="135.34" r="1.22" fill="#dc3038"/>
<circle cx="415.32" cy="130.56" r="1.22" fill="#34409c"/>
<polygon points="415.32,107.84 413.94,110.37 416.70,110.37" fill="#78b84c"/>
<text x="415.32" y="5.60" font-size="3.9" text-anchor="middle" fill="#333" stroke="#333" stroke-width="0.1">A</text>
<text x="416.42" y="193.40" font-size="3.0" fill="#4a4a4a" textLength="14.80" lengthAdjust="spacingAndGlyphs" transform="rotate(-90 416.42 193.40)">ALCL.09</text>
<line x1="418.97" y1="173.20" x2="418.97" y2="175.60" stroke="#777" stroke-width="0.6"/>
<circle cx="418.97" cy="136.90" r="1.22" fill="#dc3038"/>
<circle cx="418.97" cy="142.02" r="1.22" fill="#34409c"/>
<polygon points="418.97,88.48 417.59,91.02 420.35,91.02" fill="#78b84c"/>
<text x="418.97" y="5.60" font-size="3.9" text-anchor="middle" fill="#333" stroke="#333" stroke-width="0.1">A</text>
<text x="420.07" y="193.40" font-size="3.0" fill="#4a4a4a" textLength="14.80" lengthAdjust="spacingAndGlyphs" transform="rotate(-90 420.07 193.40)">ALCL.10</text>
<line x1="422.61" y1="173.20" x2="422.61" y2="175.60" stroke="#777" stroke-width="0.6"/>
<circle cx="422.61" cy="129.45" r="1.22" fill="#dc3038"/>
<circle cx="422.61" cy="133.12" r="1.22" fill="#34409c"/>
<polygon points="422.61,93.93 421.23,96.47 423.99,96.47" fill="#78b84c"/>
<text x="422.61" y="5.60" font-size="3.9" text-anchor="middle" fill="#333" stroke="#333" stroke-width="0.1">A</text>
<text x="423.71" y="193.40" font-size="3.0" fill="#4a4a4a" textLength="14.80" lengthAdjust="spacingAndGlyphs" transform="rotate(-90 423.71 193.40)">ALCL.11</text>
<line x1="426.26" y1="173.20" x2="426.26" y2="175.60" stroke="#777" stroke-width="0.6"/>
<circle cx="426.26" cy="109.31" r="1.22" fill="#34409c"/>
<polygon points="426.26,90.37 424.88,92.91 427.64,92.91" fill="#78b84c"/>
<text x="426.26" y="5.60" font-size="3.9" text-anchor="middle" fill="#333" stroke="#333" stroke-width="0.1">A</text>
<text x="427.36" y="193.40" font-size="3.0" fill="#4a4a4a" textLength="14.80" lengthAdjust="spacingAndGlyphs" transform="rotate(-90 427.36 193.40)">ALCL.12</text>
<line x1="429.90" y1="173.20" x2="429.90" y2="175.60" stroke="#777" stroke-width="0.6"/>
<circle cx="429.90" cy="124.33" r="1.22" fill="#dc3038"/>
<circle cx="429.90" cy="125.00" r="1.22" fill="#34409c"/>
<polygon points="429.90,111.73 428.52,114.27 431.28,114.27" fill="#78b84c"/>
<text x="429.90" y="5.60" font-size="3.9" text-anchor="middle" fill="#333" stroke="#333" stroke-width="0.1">A</text>
<text x="431.00" y="193.40" font-size="3.0" fill="#4a4a4a" textLength="14.80" lengthAdjust="spacingAndGlyphs" transform="rotate(-90 431.00 193.40)">ALCL.13</text>
<line x1="433.55" y1="173.20" x2="433.55" y2="175.60" stroke="#777" stroke-width="0.6"/>
<circle cx="433.55" cy="117.10" r="1.22" fill="#dc3038"/>
<circle cx="433.55" cy="128.67" r="1.22" fill="#34409c"/>
<polygon points="433.55,46.09 432.17,48.63 434.93,48.63" fill="#78b84c"/>
<text x="433.55" y="5.60" font-size="3.9" text-anchor="middle" fill="#333" stroke="#333" stroke-width="0.1">A</text>
<text x="434.65" y="193.40" font-size="3.0" fill="#4a4a4a" textLength="14.80" lengthAdjust="spacingAndGlyphs" transform="rotate(-90 434.65 193.40)">ALCL.14</text>
<line x1="437.20" y1="173.20" x2="437.20" y2="175.60" stroke="#777" stroke-width="0.6"/>
<circle cx="437.20" cy="113.32" r="1.22" fill="#34409c"/>
<polygon points="437.20,98.71 435.82,101.25 438.58,101.25" fill="#78b84c"/>
<text x="437.20" y="5.60" font-size="3.9" text-anchor="middle" fill="#333" stroke="#333" stroke-width="0.1">A</text>
<text x="438.30" y="193.40" font-size="3.0" fill="#4a4a4a" textLength="14.80" lengthAdjust="spacingAndGlyphs" transform="rotate(-90 438.30 193.40)">ALCL.15</text>
<line x1="440.84" y1="173.20" x2="440.84" y2="175.60" stroke="#777" stroke-width="0.6"/>
<circle cx="440.84" cy="116.43" r="1.22" fill="#dc3038"/>
<circle cx="440.84" cy="91.40" r="1.22" fill="#34409c"/>
<polygon points="440.84,71.68 439.46,74.22 442.22,74.22" fill="#78b84c"/>
<text x="440.84" y="11.90" font-size="4.1" text-anchor="middle" fill="#333" stroke="#333" stroke-width="0.1">P</text>
<text x="441.94" y="193.40" font-size="3.0" fill="#4a4a4a" textLength="14.80" lengthAdjust="spacingAndGlyphs" transform="rotate(-90 441.94 193.40)">ALCL.16</text>
<line x1="444.49" y1="173.20" x2="444.49" y2="175.60" stroke="#777" stroke-width="0.6"/>
<circle cx="444.49" cy="114.98" r="1.22" fill="#dc3038"/>
<circle cx="444.49" cy="117.54" r="1.22" fill="#34409c"/>
<polygon points="444.49,80.91 443.11,83.45 445.87,83.45" fill="#78b84c"/>
<text x="444.49" y="5.60" font-size="3.9" text-anchor="middle" fill="#333" stroke="#333" stroke-width="0.1">A</text>
<text x="445.59" y="193.40" font-size="3.0" fill="#4a4a4a" textLength="14.80" lengthAdjust="spacingAndGlyphs" transform="rotate(-90 445.59 193.40)">ALCL.17</text>
<line x1="448.13" y1="173.20" x2="448.13" y2="175.60" stroke="#777" stroke-width="0.6"/>
<circle cx="448.13" cy="122.77" r="1.22" fill="#dc3038"/>
<circle cx="448.13" cy="114.98" r="1.22" fill="#34409c"/>
<polygon points="448.13,91.70 446.75,94.24 449.51,94.24" fill="#78b84c"/>
<text x="448.13" y="5.60" font-size="3.9" text-anchor="middle" fill="#333" stroke="#333" stroke-width="0.1">A</text>
<text x="449.23" y="193.40" font-size="3.0" fill="#4a4a4a" textLength="14.80" lengthAdjust="spacingAndGlyphs" transform="rotate(-90 449.23 193.40)">ALCL.18</text>
<line x1="451.78" y1="173.20" x2="451.78" y2="175.60" stroke="#777" stroke-width="0.6"/>
<circle cx="451.78" cy="137.35" r="1.22" fill="#dc3038"/>
<circle cx="451.78" cy="150.70" r="1.22" fill="#34409c"/>
<polygon points="451.78,92.26 450.40,94.80 453.16,94.80" fill="#78b84c"/>
<text x="451.78" y="5.60" font-size="3.9" text-anchor="middle" fill="#333" stroke="#333" stroke-width="0.1">A</text>
<text x="452.88" y="193.40" font-size="3.0" fill="#4a4a4a" textLength="14.80" lengthAdjust="spacingAndGlyphs" transform="rotate(-90 452.88 193.40)">ALCL.19</text>
<line x1="455.43" y1="173.20" x2="455.43" y2="175.60" stroke="#777" stroke-width="0.6"/>
<circle cx="455.43" cy="119.66" r="1.22" fill="#dc3038"/>
<circle cx="455.43" cy="123.55" r="1.22" fill="#34409c"/>
<polygon points="455.43,75.80 454.05,78.33 456.81,78.33" fill="#78b84c"/>
<text x="455.43" y="5.60" font-size="3.9" text-anchor="middle" fill="#333" stroke="#333" stroke-width="0.1">A</text>
<text x="456.53" y="193.40" font-size="3.0" fill="#4a4a4a" textLength="14.80" lengthAdjust="spacingAndGlyphs" transform="rotate(-90 456.53 193.40)">ALCL.20</text>
<line x1="459.07" y1="173.20" x2="459.07" y2="175.60" stroke="#777" stroke-width="0.6"/>
<circle cx="459.07" cy="138.01" r="1.22" fill="#dc3038"/>
<circle cx="459.07" cy="149.81" r="1.22" fill="#34409c"/>
<polygon points="459.07,101.83 457.69,104.37 460.45,104.37" fill="#78b84c"/>
<text x="459.07" y="5.60" font-size="3.9" text-anchor="middle" fill="#333" stroke="#333" stroke-width="0.1">A</text>
<text x="460.17" y="193.40" font-size="3.0" fill="#4a4a4a" textLength="14.80" lengthAdjust="spacingAndGlyphs" transform="rotate(-90 460.17 193.40)">ALCL.21</text>
<line x1="462.72" y1="173.20" x2="462.72" y2="175.60" stroke="#777" stroke-width="0.6"/>
<circle cx="462.72" cy="146.25" r="1.22" fill="#dc3038"/>
<circle cx="462.72" cy="141.35" r="1.22" fill="#34409c"/>
<polygon points="462.72,101.38 461.34,103.92 464.10,103.92" fill="#78b84c"/>
<text x="462.72" y="5.60" font-size="3.9" text-anchor="middle" fill="#333" stroke="#333" stroke-width="0.1">A</text>
<text x="463.82" y="193.40" font-size="3.0" fill="#4a4a4a" textLength="14.80" lengthAdjust="spacingAndGlyphs" transform="rotate(-90 463.82 193.40)">ALCL.22</text>
<line x1="466.36" y1="173.20" x2="466.36" y2="175.60" stroke="#777" stroke-width="0.6"/>
<circle cx="466.36" cy="146.91" r="1.22" fill="#dc3038"/>
<circle cx="466.36" cy="119.66" r="1.22" fill="#34409c"/>
<polygon points="466.36,93.71 464.98,96.25 467.74,96.25" fill="#78b84c"/>
<text x="466.36" y="5.60" font-size="3.9" text-anchor="middle" fill="#333" stroke="#333" stroke-width="0.1">A</text>
<text x="467.46" y="193.40" font-size="3.0" fill="#4a4a4a" textLength="14.80" lengthAdjust="spacingAndGlyphs" transform="rotate(-90 467.46 193.40)">ALCL.23</text>
<line x1="470.01" y1="173.20" x2="470.01" y2="175.60" stroke="#777" stroke-width="0.6"/>
<circle cx="470.01" cy="103.75" r="1.22" fill="#dc3038"/>
<circle cx="470.01" cy="126.78" r="1.22" fill="#34409c"/>
<polygon points="470.01,107.39 468.63,109.93 471.39,109.93" fill="#78b84c"/>
<text x="470.01" y="5.60" font-size="3.9" text-anchor="middle" fill="#333" stroke="#333" stroke-width="0.1">A</text>
<text x="471.11" y="193.40" font-size="3.0" fill="#4a4a4a" textLength="14.80" lengthAdjust="spacingAndGlyphs" transform="rotate(-90 471.11 193.40)">ALCL.24</text>
<line x1="473.66" y1="173.20" x2="473.66" y2="175.60" stroke="#777" stroke-width="0.6"/>
<circle cx="473.66" cy="152.14" r="1.22" fill="#dc3038"/>
<circle cx="473.66" cy="151.92" r="1.22" fill="#34409c"/>
<polygon points="473.66,96.27 472.28,98.80 475.04,98.80" fill="#78b84c"/>
<text x="473.66" y="5.60" font-size="3.9" text-anchor="middle" fill="#333" stroke="#333" stroke-width="0.1">A</text>
<text x="474.76" y="193.40" font-size="3.0" fill="#4a4a4a" textLength="14.80" lengthAdjust="spacingAndGlyphs" transform="rotate(-90 474.76 193.40)">ALCL.25</text>
<line x1="477.30" y1="173.20" x2="477.30" y2="175.60" stroke="#777" stroke-width="0.6"/>
<circle cx="477.30" cy="131.34" r="1.22" fill="#34409c"/>
<polygon points="477.30,88.48 475.92,91.02 478.68,91.02" fill="#78b84c"/>
<text x="477.30" y="5.60" font-size="3.9" text-anchor="middle" fill="#333" stroke="#333" stroke-width="0.1">A</text>
<text x="478.40" y="193.40" font-size="3.0" fill="#4a4a4a" textLength="14.80" lengthAdjust="spacingAndGlyphs" transform="rotate(-90 478.40 193.40)">ALCL.26</text>
<line x1="480.95" y1="173.20" x2="480.95" y2="175.60" stroke="#777" stroke-width="0.6"/>
<circle cx="480.95" cy="148.03" r="1.22" fill="#dc3038"/>
<circle cx="480.95" cy="117.21" r="1.22" fill="#34409c"/>
<polygon points="480.95,89.15 479.57,91.68 482.33,91.68" fill="#78b84c"/>
<text x="480.95" y="5.60" font-size="3.9" text-anchor="middle" fill="#333" stroke="#333" stroke-width="0.1">A</text>
<text x="482.05" y="193.40" font-size="3.0" fill="#4a4a4a" textLength="14.80" lengthAdjust="spacingAndGlyphs" transform="rotate(-90 482.05 193.40)">ALCL.27</text>
<line x1="484.59" y1="173.20" x2="484.59" y2="175.60" stroke="#777" stroke-width="0.6"/>
<circle cx="484.59" cy="125.33" r="1.22" fill="#dc3038"/>
<circle cx="484.59" cy="126.22" r="1.22" fill="#34409c"/>
<polygon points="484.59,85.36 483.21,87.90 485.97,87.90" fill="#78b84c"/>
<text x="484.59" y="5.60" font-size="3.9" text-anchor="middle" fill="#333" stroke="#333" stroke-width="0.1">A</text>
<text x="485.69" y="193.40" font-size="3.0" fill="#4a4a4a" textLength="14.80" lengthAdjust="spacingAndGlyphs" transform="rotate(-90 485.69 193.40)">ALCL.28</text>
<line x1="488.24" y1="173.20" x2="488.24" y2="175.60" stroke="#777" stroke-width="0.6"/>
<circle cx="488.24" cy="141.35" r="1.22" fill="#dc3038"/>
<circle cx="488.24" cy="144.69" r="1.22" fill="#34409c"/>
<polygon points="488.24,100.72 486.86,103.25 489.62,103.25" fill="#78b84c"/>
<text x="488.24" y="5.60" font-size="3.9" text-anchor="middle" fill="#333" stroke="#333" stroke-width="0.1">A</text>
<text x="489.34" y="193.40" font-size="3.0" fill="#4a4a4a" textLength="14.80" lengthAdjust="spacingAndGlyphs" transform="rotate(-90 489.34 193.40)">ALCL.29</text>
<line x1="491.89" y1="173.20" x2="491.89" y2="175.60" stroke="#777" stroke-width="0.6"/>
<circle cx="491.89" cy="131.67" r="1.22" fill="#dc3038"/>
<circle cx="491.89" cy="118.54" r="1.22" fill="#34409c"/>
<polygon points="491.89,76.24 490.51,78.78 493.27,78.78" fill="#78b84c"/>
<text x="491.89" y="5.60" font-size="3.9" text-anchor="middle" fill="#333" stroke="#333" stroke-width="0.1">A</text>
<text x="492.99" y="193.40" font-size="3.0" fill="#4a4a4a" textLength="14.80" lengthAdjust="spacingAndGlyphs" transform="rotate(-90 492.99 193.40)">ALCL.30</text>
<line x1="495.53" y1="173.20" x2="495.53" y2="175.60" stroke="#777" stroke-width="0.6"/>
<circle cx="495.53" cy="154.70" r="1.22" fill="#dc3038"/>
<circle cx="495.53" cy="139.79" r="1.22" fill="#34409c"/>
<polygon points="495.53,107.84 494.15,110.37 496.91,110.37" fill="#78b84c"/>
<text x="495.53" y="5.60" font-size="3.9" text-anchor="middle" fill="#333" stroke="#333" stroke-width="0.1">A</text>
<text x="496.63" y="193.40" font-size="3.0" fill="#4a4a4a" textLength="14.80" lengthAdjust="spacingAndGlyphs" transform="rotate(-90 496.63 193.40)">ALCL.31</text>
<line x1="499.18" y1="173.20" x2="499.18" y2="175.60" stroke="#777" stroke-width="0.6"/>
<circle cx="499.18" cy="121.66" r="1.22" fill="#dc3038"/>
<circle cx="499.18" cy="117.88" r="1.22" fill="#34409c"/>
<polygon points="499.18,78.80 497.80,81.34 500.56,81.34" fill="#78b84c"/>
<text x="499.18" y="5.60" font-size="3.9" text-anchor="middle" fill="#333" stroke="#333" stroke-width="0.1">A</text>
<text x="500.28" y="193.40" font-size="3.0" fill="#4a4a4a" textLength="14.80" lengthAdjust="spacingAndGlyphs" transform="rotate(-90 500.28 193.40)">ALCL.32</text>
<line x1="502.82" y1="173.20" x2="502.82" y2="175.60" stroke="#777" stroke-width="0.6"/>
<circle cx="502.82" cy="120.10" r="1.22" fill="#dc3038"/>
<circle cx="502.82" cy="101.19" r="1.22" fill="#34409c"/>
<polygon points="502.82,82.92 501.44,85.45 504.20,85.45" fill="#78b84c"/>
<text x="502.82" y="5.60" font-size="3.9" text-anchor="middle" fill="#333" stroke="#333" stroke-width="0.1">A</text>
<text x="503.92" y="193.40" font-size="3.0" fill="#4a4a4a" textLength="14.80" lengthAdjust="spacingAndGlyphs" transform="rotate(-90 503.92 193.40)">ALCL.33</text>
<line x1="506.47" y1="173.20" x2="506.47" y2="175.60" stroke="#777" stroke-width="0.6"/>
<circle cx="506.47" cy="138.68" r="1.22" fill="#dc3038"/>
<circle cx="506.47" cy="133.45" r="1.22" fill="#34409c"/>
<polygon points="506.47,89.15 505.09,91.68 507.85,91.68" fill="#78b84c"/>
<text x="506.47" y="5.60" font-size="3.9" text-anchor="middle" fill="#333" stroke="#333" stroke-width="0.1">A</text>
<text x="507.57" y="193.40" font-size="3.0" fill="#4a4a4a" textLength="14.80" lengthAdjust="spacingAndGlyphs" transform="rotate(-90 507.57 193.40)">ALCL.34</text>
<circle cx="265.30" cy="158.20" r="1.1" fill="#7a2838"/>
<text x="270.70" y="159.90" font-size="4.3" fill="#e05868" textLength="17.40" lengthAdjust="spacingAndGlyphs">TNFRSF8</text>
<circle cx="265.30" cy="163.20" r="1.1" fill="#2a2c50"/>
<text x="270.70" y="164.90" font-size="4.3" fill="#4a54a0" textLength="12.30" lengthAdjust="spacingAndGlyphs">BATF3</text>
<polygon points="265.30,167.08 264.15,169.19 266.45,169.19" fill="#4a5a48"/>
<text x="270.70" y="170.00" font-size="4.3" fill="#98c468" textLength="13.50" lengthAdjust="spacingAndGlyphs">TMOD1</text>
<text x="373.50" y="203.90" font-size="7.5" fill="#222" textLength="28.00" lengthAdjust="spacingAndGlyphs">Samples</text>
<text x="1.20" y="224.10" font-size="11.4" font-weight="bold" textLength="8.60" lengthAdjust="spacingAndGlyphs">C</text>
<line x1="72.30" y1="250.10" x2="72.30" y2="303.80" stroke="#333" stroke-width="1.1"/>
<line x1="165.10" y1="250.10" x2="165.10" y2="303.80" stroke="#333" stroke-width="1.1"/>
<line x1="13.00" y1="270.30" x2="197.60" y2="270.30" stroke="#333" stroke-width="1.1"/>
<line x1="13.00" y1="292.30" x2="197.60" y2="292.30" stroke="#333" stroke-width="1.1"/>
<text x="14.20" y="262.90" font-size="8.7" font-weight="bold" fill="#111" textLength="53.70" lengthAdjust="spacingAndGlyphs">True/Predicted</text>
<text x="79.80" y="262.90" font-size="8.7" font-weight="bold" fill="#111" textLength="35.10" lengthAdjust="spacingAndGlyphs">PTCL-NOS</text>
<text x="126.50" y="262.90" font-size="8.7" font-weight="bold" fill="#111" textLength="34.20" lengthAdjust="spacingAndGlyphs">ALCL ALK-</text>
<text x="172.20" y="262.90" font-size="8.7" font-weight="bold" fill="#111" textLength="17.90" lengthAdjust="spacingAndGlyphs">Total</text>
<text x="14.40" y="278.60" font-size="8.7" font-weight="bold" fill="#111" textLength="35.30" lengthAdjust="spacingAndGlyphs">PTCL-NOS</text>
<text x="97.40" y="278.60" font-size="9.0" text-anchor="middle" fill="#222" textLength="8.20" lengthAdjust="spacingAndGlyphs">31</text>
<text x="143.80" y="278.60" font-size="9.0" text-anchor="middle" fill="#222" textLength="3.60" lengthAdjust="spacingAndGlyphs">1</text>
<text x="181.40" y="278.60" font-size="9.0" text-anchor="middle" fill="#222" textLength="8.20" lengthAdjust="spacingAndGlyphs">32</text>
<text x="14.40" y="289.60" font-size="8.7" font-weight="bold" fill="#111" textLength="36.20" lengthAdjust="spacingAndGlyphs">ALCL ALK-</text>
<text x="97.40" y="289.60" font-size="9.0" text-anchor="middle" fill="#222" textLength="3.60" lengthAdjust="spacingAndGlyphs">1</text>
<text x="143.80" y="289.60" font-size="9.0" text-anchor="middle" fill="#222" textLength="8.20" lengthAdjust="spacingAndGlyphs">33</text>
<text x="181.40" y="289.60" font-size="9.0" text-anchor="middle" fill="#222" textLength="8.20" lengthAdjust="spacingAndGlyphs">34</text>
<text x="14.40" y="300.80" font-size="8.7" font-weight="bold" fill="#111" textLength="18.20" lengthAdjust="spacingAndGlyphs">Total</text>
<text x="97.40" y="300.80" font-size="9.0" text-anchor="middle" fill="#222" textLength="8.20" lengthAdjust="spacingAndGlyphs">32</text>
<text x="143.80" y="300.80" font-size="9.0" text-anchor="middle" fill="#222" textLength="8.20" lengthAdjust="spacingAndGlyphs">34</text>
<text x="235.60" y="224.00" font-size="11.2" font-weight="bold" textLength="8.90" lengthAdjust="spacingAndGlyphs">D</text>
<rect x="309.00" y="215.50" width="157.30" height="145.50" fill="none" stroke="#8c8c8c" stroke-width="0.9"/>
<line x1="307.00" y1="358.20" x2="309.00" y2="358.20" stroke="#777" stroke-width="0.6"/>
<text x="301.50" y="358.20" font-size="5.2" text-anchor="middle" fill="#333" transform="rotate(-90 301.50 358.20)">0.0</text>
<line x1="307.00" y1="336.53" x2="309.00" y2="336.53" stroke="#777" stroke-width="0.6"/>
<text x="301.50" y="336.53" font-size="5.2" text-anchor="middle" fill="#333" transform="rotate(-90 301.50 336.53)">0.5</text>
<line x1="307.00" y1="314.87" x2="309.00" y2="314.87" stroke="#777" stroke-width="0.6"/>
<text x="301.50" y="314.87" font-size="5.2" text-anchor="middle" fill="#333" transform="rotate(-90 301.50 314.87)">1.0</text>
<line x1="307.00" y1="293.20" x2="309.00" y2="293.20" stroke="#777" stroke-width="0.6"/>
<text x="301.50" y="293.20" font-size="5.2" text-anchor="middle" fill="#333" transform="rotate(-90 301.50 293.20)">1.5</text>
<line x1="307.00" y1="271.54" x2="309.00" y2="271.54" stroke="#777" stroke-width="0.6"/>
<text x="301.50" y="271.54" font-size="5.2" text-anchor="middle" fill="#333" transform="rotate(-90 301.50 271.54)">2.0</text>
<line x1="307.00" y1="249.88" x2="309.00" y2="249.88" stroke="#777" stroke-width="0.6"/>
<text x="301.50" y="249.88" font-size="5.2" text-anchor="middle" fill="#333" transform="rotate(-90 301.50 249.88)">2.5</text>
<line x1="307.00" y1="228.21" x2="309.00" y2="228.21" stroke="#777" stroke-width="0.6"/>
<text x="301.50" y="228.21" font-size="5.2" text-anchor="middle" fill="#333" transform="rotate(-90 301.50 228.21)">3.0</text>
<text x="290.80" y="288.20" font-size="6.4" text-anchor="middle" fill="#2a2a2a" textLength="57.00" lengthAdjust="spacingAndGlyphs" transform="rotate(-90 290.80 288.20)" stroke="#2a2a2a" stroke-width="0.02">Adjusted Ct values</text>
<line x1="309.00" y1="286.70" x2="466.30" y2="286.70" stroke="#777" stroke-width="0.8"/>
<line x1="351.30" y1="253.50" x2="351.30" y2="260.80" stroke="#999" stroke-width="0.5" stroke-dasharray="1,1"/>
<line x1="351.30" y1="276.60" x2="351.30" y2="286.60" stroke="#999" stroke-width="0.5" stroke-dasharray="1,1"/>
<line x1="336.00" y1="253.50" x2="366.00" y2="253.50" stroke="#8a8a8a" stroke-width="0.7"/>
<line x1="336.00" y1="286.60" x2="366.00" y2="286.60" stroke="#8a8a8a" stroke-width="0.7"/>
<rect x="321.70" y="261.10" width="59.30" height="15.50" fill="#d8d8d8" stroke="#8a8a8a" stroke-width="0.8"/>
<line x1="321.70" y1="270.40" x2="381.00" y2="270.40" stroke="#333" stroke-width="1.3"/>
<line x1="424.40" y1="287.10" x2="424.40" y2="303.30" stroke="#999" stroke-width="0.5" stroke-dasharray="1,1"/>
<line x1="424.40" y1="321.20" x2="424.40" y2="334.70" stroke="#999" stroke-width="0.5" stroke-dasharray="1,1"/>
<line x1="409.50" y1="287.10" x2="439.00" y2="287.10" stroke="#8a8a8a" stroke-width="0.7"/>
<line x1="409.50" y1="334.70" x2="439.00" y2="334.70" stroke="#8a8a8a" stroke-width="0.7"/>
<rect x="395.00" y="303.60" width="58.70" height="17.60" fill="#d8d8d8" stroke="#8a8a8a" stroke-width="0.8"/>
<line x1="395.00" y1="314.40" x2="453.70" y2="314.40" stroke="#333" stroke-width="1.3"/>
<circle cx="351.30" cy="253.50" r="1.12" fill="#111"/>
<circle cx="351.30" cy="256.80" r="1.12" fill="#111"/>
<circle cx="353.00" cy="256.80" r="1.12" fill="#111"/>
<circle cx="351.30" cy="258.60" r="1.12" fill="#111"/>
<circle cx="344.80" cy="260.40" r="1.12" fill="#111"/>
<circle cx="347.10" cy="261.00" r="1.12" fill="#111"/>
<circle cx="349.50" cy="261.50" r="1.12" fill="#111"/>
<circle cx="351.30" cy="260.40" r="1.12" fill="#111"/>
<circle cx="353.60" cy="261.50" r="1.12" fill="#111"/>
<circle cx="355.40" cy="260.40" r="1.12" fill="#111"/>
<circle cx="351.30" cy="262.70" r="1.12" fill="#111"/>
<circle cx="351.30" cy="265.70" r="1.12" fill="#111"/>
<circle cx="351.30" cy="267.40" r="1.12" fill="#111"/>
<circle cx="347.10" cy="269.80" r="1.12" fill="#111"/>
<circle cx="349.50" cy="270.40" r="1.12" fill="#111"/>
<circle cx="351.80" cy="270.40" r="1.12" fill="#111"/>
<circle cx="354.20" cy="270.40" r="1.12" fill="#111"/>
<circle cx="356.00" cy="269.80" r="1.12" fill="#111"/>
<circle cx="350.10" cy="272.20" r="1.12" fill="#111"/>
<circle cx="352.40" cy="272.80" r="1.12" fill="#111"/>
<circle cx="354.80" cy="271.90" r="1.12" fill="#111"/>
<circle cx="350.70" cy="274.00" r="1.12" fill="#111"/>
<circle cx="353.00" cy="274.50" r="1.12" fill="#111"/>
<circle cx="351.30" cy="276.00" r="1.12" fill="#111"/>
<circle cx="353.00" cy="276.30" r="1.12" fill="#111"/>
<circle cx="347.70" cy="277.80" r="1.12" fill="#111"/>
<circle cx="350.10" cy="278.30" r="1.12" fill="#111"/>
<circle cx="351.80" cy="278.70" r="1.12" fill="#111"/>
<circle cx="350.70" cy="280.20" r="1.12" fill="#111"/>
<circle cx="353.00" cy="279.80" r="1.12" fill="#111"/>
<circle cx="351.80" cy="284.00" r="1.12" fill="#111"/>
<circle cx="350.70" cy="286.30" r="1.12" fill="#111"/>
<circle cx="351.30" cy="222.20" r="1.12" fill="#111"/>
<circle cx="351.30" cy="235.00" r="1.12" fill="#111"/>
<circle cx="351.30" cy="305.50" r="1.12" fill="#111"/>
<circle cx="424.50" cy="287.10" r="1.12" fill="#111"/>
<circle cx="424.00" cy="295.00" r="1.12" fill="#111"/>
<circle cx="425.60" cy="296.50" r="1.12" fill="#111"/>
<circle cx="423.20" cy="298.10" r="1.12" fill="#111"/>
<circle cx="425.60" cy="298.90" r="1.12" fill="#111"/>
<circle cx="420.90" cy="302.00" r="1.12" fill="#111"/>
<circle cx="423.20" cy="302.00" r="1.12" fill="#111"/>
<circle cx="425.60" cy="303.60" r="1.12" fill="#111"/>
<circle cx="424.00" cy="305.20" r="1.12" fill="#111"/>
<circle cx="426.40" cy="306.70" r="1.12" fill="#111"/>
<circle cx="424.00" cy="308.30" r="1.12" fill="#111"/>
<circle cx="426.40" cy="309.90" r="1.12" fill="#111"/>
<circle cx="422.50" cy="312.30" r="1.12" fill="#111"/>
<circle cx="420.10" cy="313.80" r="1.12" fill="#111"/>
<circle cx="425.60" cy="313.40" r="1.12" fill="#111"/>
<circle cx="428.00" cy="313.80" r="1.12" fill="#111"/>
<circle cx="422.50" cy="316.20" r="1.12" fill="#111"/>
<circle cx="425.60" cy="317.00" r="1.12" fill="#111"/>
<circle cx="427.20" cy="318.50" r="1.12" fill="#111"/>
<circle cx="423.20" cy="318.50" r="1.12" fill="#111"/>
<circle cx="424.80" cy="320.90" r="1.12" fill="#111"/>
<circle cx="423.20" cy="325.60" r="1.12" fill="#111"/>
<circle cx="425.60" cy="327.20" r="1.12" fill="#111"/>
<circle cx="424.00" cy="328.80" r="1.12" fill="#111"/>
<circle cx="422.50" cy="332.70" r="1.12" fill="#111"/>
<circle cx="424.80" cy="333.50" r="1.12" fill="#111"/>
<circle cx="425.60" cy="334.80" r="1.12" fill="#111"/>
<circle cx="424.40" cy="354.00" r="1.12" fill="#111"/>
<line x1="351.30" y1="361.00" x2="351.30" y2="362.60" stroke="#777" stroke-width="0.6"/>
<line x1="424.40" y1="361.00" x2="424.40" y2="362.60" stroke="#777" stroke-width="0.6"/>
<text x="351.20" y="370.50" font-size="4.7" text-anchor="middle" fill="#333" textLength="12.00" lengthAdjust="spacingAndGlyphs">PTCL</text>
<text x="424.20" y="370.50" font-size="4.7" text-anchor="middle" fill="#333" textLength="23.40" lengthAdjust="spacingAndGlyphs">ALCL ALK-</text>
<text x="387.60" y="379.00" font-size="7.0" text-anchor="middle" fill="#222" textLength="27.40" lengthAdjust="spacingAndGlyphs">Samples</text>
</svg>
</body></html>
